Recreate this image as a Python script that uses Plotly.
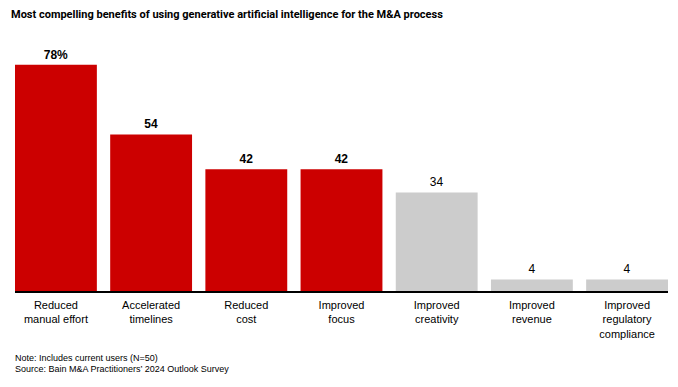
import plotly.graph_objects as go

categories = ["Reduced<br>manual effort", "Accelerated<br>timelines", "Reduced<br>cost",
              "Improved<br>focus", "Improved<br>creativity", "Improved<br>revenue",
              "Improved<br>regulatory<br>compliance"]
values = [78, 54, 42, 42, 34, 4, 4]
title_text = "Most compelling benefits of using generative artificial intelligence for the M&A process"
note_text = "Note: Includes current users (N=50)"
source_text = "Source: Bain M&A Practitioners\u2019 2024 Outlook Survey"

n_highlight = 4
colors = ["#CC0000" if i < n_highlight else "#CCCCCC" for i in range(len(values))]
labels = []
for i, v in enumerate(values):
    s = f"{v}%" if i == 0 else f"{v}"
    labels.append(f"<b>{s}</b>" if i < n_highlight else s)

W, H = 678, 387
L, R, T, B = 15, 10, 59, 96
plot_h = H - T - B
plot_w = W - L - R


def py(px_from_top):
    return (H - B - px_from_top) / plot_h


def px(px_from_left):
    return (px_from_left - L) / plot_w


fig = go.Figure(go.Bar(
    x=list(range(len(values))), y=values, marker=dict(color=colors, line=dict(width=0)),
    text=labels, textposition="outside", cliponaxis=False,
    textfont=dict(family="Liberation Sans, Arial", size=12, color="#000000"),
))

fig.update_layout(
    width=W, height=H, margin=dict(l=L, r=R, t=T, b=B, autoexpand=False),
    paper_bgcolor="white", plot_bgcolor="white",
    bargap=0.14, showlegend=False,
    font=dict(family="Liberation Sans, Arial", color="#000000"),
    xaxis=dict(range=[-0.43, 6.43], tickmode="array", tickvals=list(range(len(values))),
               ticktext=categories, showgrid=False, zeroline=False,
               showline=True, linecolor="#000000", linewidth=1.5, ticks="",
               ticklabelstandoff=3,
               tickfont=dict(size=11, color="#000000")),
    yaxis=dict(range=[0, 80], visible=False),
    annotations=[
        dict(text=f"<b>{title_text}</b>", x=px(9), y=py(14), xref="paper", yref="paper",
             xanchor="left", yanchor="middle", showarrow=False,
             font=dict(family="Roboto", size=11, color="#000000")),
        dict(text=note_text, x=px(13), y=py(358), xref="paper", yref="paper",
             xanchor="left", yanchor="middle", showarrow=False,
             font=dict(size=9, color="#000000")),
        dict(text=source_text, x=px(13), y=py(369), xref="paper", yref="paper",
             xanchor="left", yanchor="middle", showarrow=False,
             font=dict(size=9, color="#000000")),
    ],
)

fig.write_html("out.html", config={"displayModeBar": False},
               post_script="document.body.style.margin='0px';")
